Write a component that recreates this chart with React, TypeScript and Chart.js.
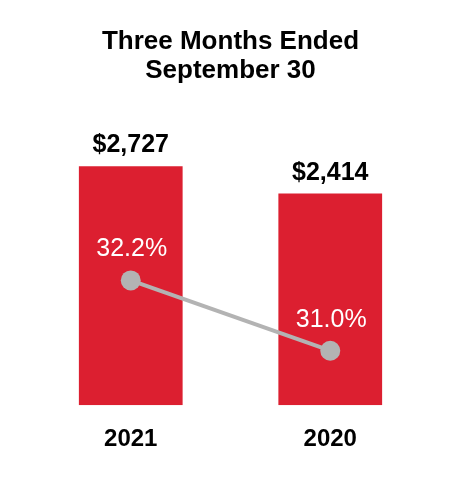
import React, { useEffect, useRef } from "react";
import { Chart, registerables } from "chart.js";

Chart.register(...registerables);

const categories = ["2021", "2020"];
const revenueValues = [2727, 2414];
const revenueLabels = ["$2,727", "$2,414"];
const marginValues = [32.2, 31.0];
const marginLabels = ["32.2%", "31.0%"];
const titleLines = ["Three Months Ended", "September 30"];

const FONT = "'Liberation Sans', Arial, Helvetica, sans-serif";

const labelPlugin = {
  id: "customLabels",
  afterDatasetsDraw(chart: any) {
    const ctx = chart.ctx;
    ctx.save();
    const barMeta = chart.getDatasetMeta(1);
    ctx.font = `bold 25px ${FONT}`;
    ctx.fillStyle = "#000000";
    ctx.textAlign = "center";
    ctx.textBaseline = "alphabetic";
    barMeta.data.forEach((el: any, i: number) => {
      ctx.fillText(revenueLabels[i], el.x, el.y - 14);
    });
    const lineMeta = chart.getDatasetMeta(0);
    ctx.font = `25px ${FONT}`;
    ctx.fillStyle = "#ffffff";
    lineMeta.data.forEach((el: any, i: number) => {
      ctx.fillText(marginLabels[i], el.x + 1, el.y - 24);
    });
    ctx.restore();
  },
};

export default function App() {
  const ref = useRef<HTMLCanvasElement | null>(null);
  useEffect(() => {
    if (!ref.current) return;
    const chart = new Chart(ref.current, {
      type: "bar",
      data: {
        labels: categories,
        datasets: [
          {
            type: "line",
            data: marginValues,
            yAxisID: "y1",
            borderColor: "#b3b3b3",
            backgroundColor: "#b3b3b3",
            borderWidth: 4,
            pointRadius: 10,
            pointBackgroundColor: "#b3b3b3",
            pointBorderColor: "#b3b3b3",
            pointBorderWidth: 0,
            order: 0,
          } as any,
          {
            type: "bar",
            data: revenueValues,
            yAxisID: "y",
            backgroundColor: "#dc1f30",
            barPercentage: 0.52,
            categoryPercentage: 1,
            order: 1,
          },
        ],
      },
      options: {
        animation: false,
        responsive: false,
        maintainAspectRatio: false,
        layout: { padding: { left: 31, right: 30, top: 0, bottom: 6 } },
        plugins: {
          legend: { display: false },
          tooltip: { enabled: false },
          title: {
            display: true,
            text: titleLines,
            color: "#000000",
            font: { family: FONT, size: 26, weight: "bold", lineHeight: 1.1 },
            padding: { top: 28, bottom: 57 },
          },
        },
        scales: {
          x: {
            grid: { display: false, drawTicks: false },
            border: { display: false },
            ticks: {
              color: "#000000",
              font: { family: FONT, size: 24, weight: "bold" },
              padding: 20,
            },
          },
          y: {
            display: false,
            min: 0,
            max: 3000,
          },
          y1: {
            display: false,
            min: 30.07,
            max: 34.56,
          },
        },
      },
      plugins: [labelPlugin],
    });
    return () => chart.destroy();
  }, []);
  return (
    <div style={{ position: "absolute", left: 0, top: 0, width: 460, height: 480, background: "#fff" }}>
      <canvas ref={ref} width={460} height={480} style={{ width: 460, height: 480 }} />
    </div>
  );
}
